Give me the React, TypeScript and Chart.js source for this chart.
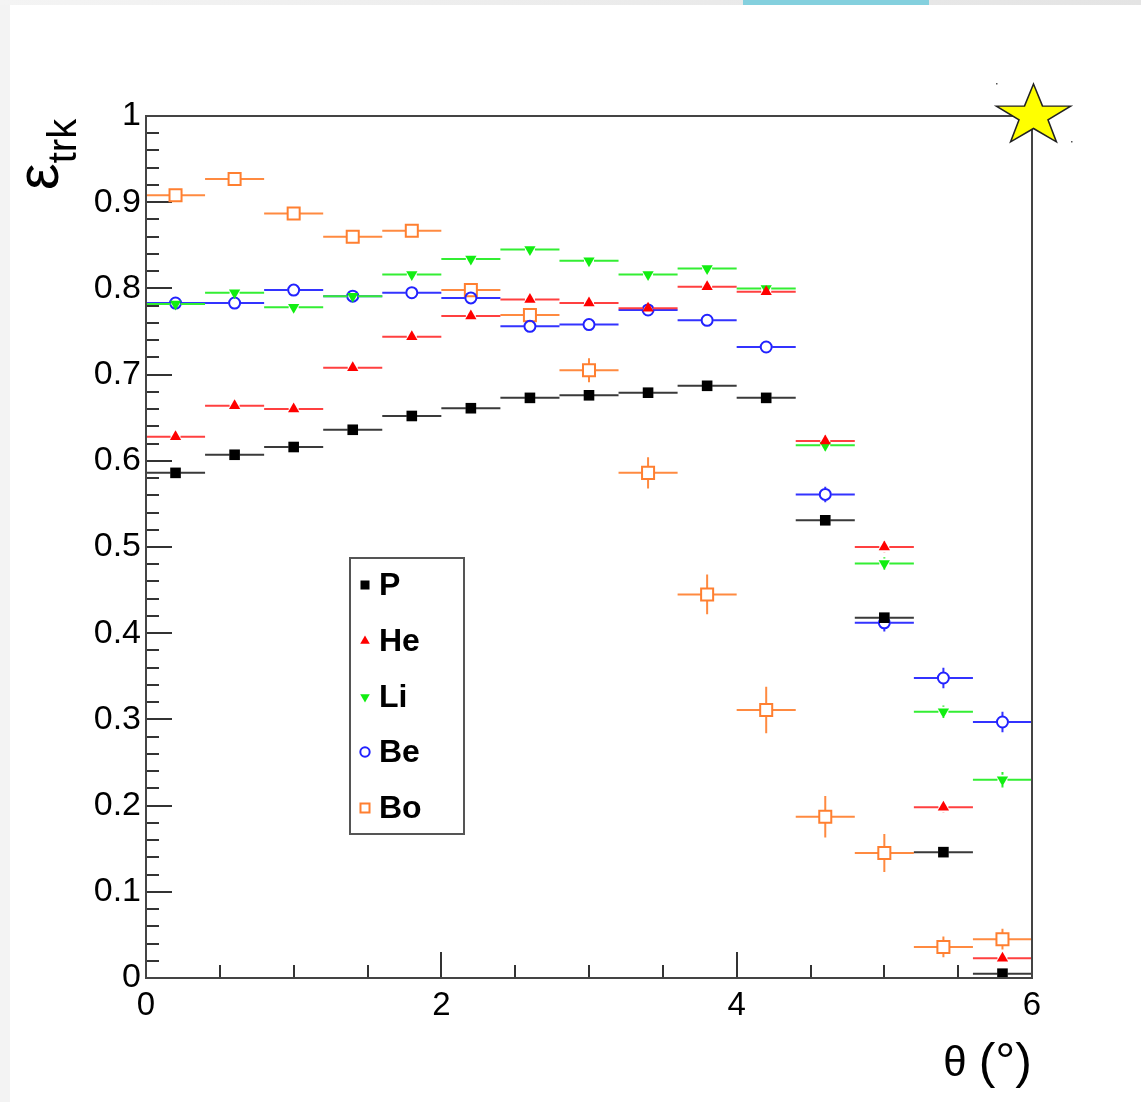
import React, { useEffect, useRef } from 'react';
import { Chart, registerables } from 'chart.js';
Chart.register(...registerables);

// ---- data ----
const thetaCenters = [0.2, 0.6, 1.0, 1.4, 1.8, 2.2, 2.6, 3.0, 3.4, 3.8, 4.2, 4.6, 5.0, 5.4, 5.8];
const binHalfWidth = 0.2;

const effP = [0.586, 0.607, 0.616, 0.636, 0.652, 0.661, 0.673, 0.676, 0.679, 0.687, 0.673, 0.531, 0.418, 0.146, 0.005];
const errP = [0.003, 0.003, 0.003, 0.003, 0.003, 0.003, 0.003, 0.003, 0.003, 0.003, 0.003, 0.004, 0.004, 0.004, 0.002];

const effHe = [0.628, 0.664, 0.660, 0.708, 0.744, 0.768, 0.787, 0.783, 0.777, 0.802, 0.796, 0.623, 0.500, 0.198, 0.023];
const errHe = [0.004, 0.004, 0.004, 0.004, 0.004, 0.004, 0.004, 0.004, 0.004, 0.004, 0.004, 0.006, 0.006, 0.006, 0.005];

const effLi = [0.782, 0.795, 0.778, 0.791, 0.816, 0.834, 0.845, 0.832, 0.816, 0.823, 0.800, 0.618, 0.481, 0.309, 0.230];
const errLi = [0.004, 0.004, 0.004, 0.004, 0.004, 0.004, 0.004, 0.004, 0.004, 0.004, 0.005, 0.006, 0.007, 0.007, 0.009];

const effBe = [0.783, 0.783, 0.798, 0.791, 0.795, 0.789, 0.756, 0.758, 0.775, 0.763, 0.732, 0.561, 0.412, 0.348, 0.297];
const errBe = [0.004, 0.004, 0.004, 0.004, 0.004, 0.004, 0.005, 0.005, 0.006, 0.006, 0.006, 0.009, 0.010, 0.012, 0.012];

const effBo = [0.908, 0.927, 0.887, 0.860, 0.867, 0.798, 0.769, 0.705, 0.586, 0.445, 0.311, 0.187, 0.145, 0.036, 0.045];
const errBo = [0.004, 0.004, 0.004, 0.004, 0.004, 0.006, 0.008, 0.014, 0.018, 0.023, 0.027, 0.024, 0.022, 0.012, 0.012];

const seriesNames = ['P', 'He', 'Li', 'Be', 'Bo'];
const yTickLabels = ['0', '0.1', '0.2', '0.3', '0.4', '0.5', '0.6', '0.7', '0.8', '0.9', '1'];
const xTickLabels = ['0', '2', '4', '6'];

// ---- styles ----
type Sty = { shape: string; size: number; fill: string; stroke: string; bar: string; gap: number };
const styles: Sty[] = [
  { shape: 'square', size: 7.5, fill: '#000000', stroke: '#000000', bar: '#3a3a3a', gap: 5 },
  { shape: 'tri', size: 6.5, fill: '#ff0000', stroke: '#ff0000', bar: '#ff4040', gap: 5 },
  { shape: 'triDown', size: 6.5, fill: '#11ee11', stroke: '#11ee11', bar: '#33ee33', gap: 5 },
  { shape: 'circle', size: 5.5, fill: 'rgba(0,0,0,0)', stroke: '#2222ff', bar: '#3333ff', gap: 6 },
  { shape: 'openSquare', size: 8.5, fill: 'rgba(0,0,0,0)', stroke: '#ff7f30', bar: '#ff8a40', gap: 6 },
];

const values = [effP, effHe, effLi, effBe, effBo];
const errors = [errP, errHe, errLi, errBe, errBo];

const FONT = '"Liberation Sans", Arial, sans-serif';

function pointStyleFor(shape: string) {
  if (shape === 'square' || shape === 'openSquare') return 'rect';
  if (shape === 'tri' || shape === 'triDown') return 'triangle';
  return 'circle';
}

function drawMarker(ctx: CanvasRenderingContext2D, sty: Sty, x: number, y: number, scale: number) {
  const r = sty.size * scale;
  ctx.save();
  ctx.beginPath();
  if (sty.shape === 'square' || sty.shape === 'openSquare') {
    const h = r * Math.SQRT1_2;
    ctx.rect(x - h, y - h, 2 * h, 2 * h);
  } else if (sty.shape === 'tri' || sty.shape === 'triDown') {
    const s = sty.shape === 'tri' ? 1 : -1;
    let a = 0;
    for (let k = 0; k < 3; k++) {
      const px = x + Math.sin(a) * r;
      const py = y - s * Math.cos(a) * r;
      if (k === 0) ctx.moveTo(px, py); else ctx.lineTo(px, py);
      a += (2 * Math.PI) / 3;
    }
    ctx.closePath();
  } else {
    ctx.arc(x, y, r, 0, Math.PI * 2);
  }
  if (sty.shape === 'circle' || sty.shape === 'openSquare') {
    ctx.lineWidth = 2;
    ctx.strokeStyle = sty.stroke;
    ctx.stroke();
  } else {
    ctx.fillStyle = sty.fill;
    ctx.fill();
  }
  ctx.restore();
}

const backgroundPlugin = {
  id: 'bgPanel',
  beforeDraw(chart: any) {
    const ctx = chart.ctx as CanvasRenderingContext2D;
    ctx.save();
    ctx.fillStyle = '#f3f3f3';
    ctx.fillRect(0, 0, chart.width, chart.height);
    const g = ctx.createLinearGradient(0, 0, chart.width, 0);
    g.addColorStop(0, '#f4f4f4');
    g.addColorStop(1, '#e4e4e4');
    ctx.fillStyle = g;
    ctx.fillRect(0, 0, chart.width, 5);
    ctx.fillStyle = '#84d0de';
    ctx.fillRect(743, 0, 186, 5);
    ctx.fillStyle = '#ffffff';
    ctx.fillRect(10, 5, chart.width - 10, chart.height - 5);
    ctx.restore();
  },
};

const ticksPlugin = {
  id: 'rootTicks',
  beforeDatasetsDraw(chart: any) {
    const ctx = chart.ctx as CanvasRenderingContext2D;
    const { left, bottom } = chart.chartArea;
    const xs = chart.scales.x;
    const ys = chart.scales.y;
    ctx.save();
    ctx.strokeStyle = '#333333';
    ctx.lineWidth = 2;
    ctx.beginPath();
    for (let i = 0; i <= 50; i++) {
      const py = Math.round(ys.getPixelForValue(i * 0.02));
      const len = i % 5 === 0 ? 26 : 13;
      ctx.moveTo(left, py);
      ctx.lineTo(left + len, py);
    }
    for (let i = 0; i <= 12; i++) {
      const px = Math.round(xs.getPixelForValue(i * 0.5));
      const len = i % 4 === 0 ? 26 : 13;
      ctx.moveTo(px, bottom);
      ctx.lineTo(px, bottom - len);
    }
    ctx.stroke();
    ctx.restore();
  },
};

const errorBarsPlugin = {
  id: 'errorBars',
  beforeDatasetDraw(chart: any, args: any) {
    const idx = args.index;
    const sty = styles[idx];
    const vals = values[idx];
    const errs = errors[idx];
    const ctx = chart.ctx as CanvasRenderingContext2D;
    const xs = chart.scales.x;
    const ys = chart.scales.y;
    const ca = chart.chartArea;
    ctx.save();
    ctx.beginPath();
    ctx.rect(ca.left, ca.top, ca.right - ca.left, ca.bottom - ca.top);
    ctx.clip();
    ctx.strokeStyle = sty.bar;
    ctx.lineWidth = 2;
    ctx.beginPath();
    for (let i = 0; i < thetaCenters.length; i++) {
      const c = thetaCenters[i];
      const px = xs.getPixelForValue(c);
      const pl = xs.getPixelForValue(c - binHalfWidth);
      const pr = xs.getPixelForValue(c + binHalfWidth);
      const py = ys.getPixelForValue(vals[i]);
      const pt = ys.getPixelForValue(vals[i] + errs[i]);
      const pb = ys.getPixelForValue(vals[i] - errs[i]);
      const g = sty.gap;
      ctx.moveTo(pl, py); ctx.lineTo(px - g, py);
      ctx.moveTo(px + g, py); ctx.lineTo(pr, py);
      if (py - pt > g) { ctx.moveTo(px, pt); ctx.lineTo(px, py - g); }
      if (pb - py > g) { ctx.moveTo(px, py + g); ctx.lineTo(px, pb); }
    }
    ctx.stroke();
    ctx.restore();
  },
};

const overlayPlugin = {
  id: 'overlay',
  afterDraw(chart: any) {
    const ctx = chart.ctx as CanvasRenderingContext2D;
    const ca = chart.chartArea;
    ctx.save();
    // frame
    ctx.strokeStyle = '#444444';
    ctx.lineWidth = 2;
    ctx.strokeRect(ca.left, ca.top, ca.right - ca.left, ca.bottom - ca.top);

    // legend
    const lx = 350, ly = 558, lw = 114, lh = 276;
    ctx.fillStyle = '#ffffff';
    ctx.fillRect(lx, ly, lw, lh);
    ctx.strokeStyle = '#555555';
    ctx.lineWidth = 2;
    ctx.strokeRect(lx, ly, lw, lh);
    const rowY = [585, 641, 697, 752, 808];
    ctx.font = `bold 32px ${FONT}`;
    ctx.textBaseline = 'middle';
    ctx.textAlign = 'left';
    for (let i = 0; i < seriesNames.length; i++) {
      drawMarker(ctx, styles[i], 365, rowY[i], i === 4 ? 0.75 : 0.85);
      ctx.fillStyle = '#000000';
      ctx.fillText(seriesNames[i], 379, rowY[i] + 1);
    }

    // y title: epsilon_trk rotated
    ctx.save();
    ctx.translate(58, 190);
    ctx.rotate(-Math.PI / 2);
    ctx.fillStyle = '#000000';
    ctx.textBaseline = 'alphabetic';
    ctx.textAlign = 'left';
    ctx.font = `60px ${FONT}`;
    ctx.fillText('ε', 0, 0);
    const w = ctx.measureText('ε').width;
    ctx.font = `40px ${FONT}`;
    ctx.fillText('trk', w, 18);
    ctx.restore();

    // x title
    ctx.fillStyle = '#000000';
    ctx.textBaseline = 'alphabetic';
    ctx.textAlign = 'right';
    ctx.font = `50px ${FONT}`;
    const tail = '(°)';
    ctx.fillText(tail, 1032, 1078);
    const tw = ctx.measureText(tail).width;
    ctx.font = `42px ${FONT}`;
    ctx.fillText('θ', 1032 - tw - 12, 1076);

    // star at corner
    const cx = ca.right + 1.5, cy = ca.top;
    const rx = 39, ry = 32;
    ctx.beginPath();
    for (let k = 0; k < 10; k++) {
      const a = (k * Math.PI) / 5;
      const f = k % 2 === 0 ? 1 : 0.39;
      const px = cx + rx * f * Math.sin(a);
      const py = cy - ry * f * Math.cos(a);
      if (k === 0) ctx.moveTo(px, py); else ctx.lineTo(px, py);
    }
    ctx.closePath();
    ctx.fillStyle = '#ffff00';
    ctx.fill();
    ctx.strokeStyle = '#222222';
    ctx.lineWidth = 1.5;
    ctx.stroke();
    ctx.fillStyle = '#555555';
    ctx.fillRect(996, 83, 1.5, 1.5);
    ctx.fillRect(1071, 141, 1.5, 1.5);
    ctx.restore();
  },
};

export default function App() {
  const ref = useRef<HTMLCanvasElement>(null);
  useEffect(() => {
    document.body.style.margin = '0';
    document.body.style.overflow = 'hidden';
    const datasets = seriesNames.map((name, i) => {
      const sty = styles[i];
      return {
        label: name,
        data: thetaCenters.map((x, j) => ({ x, y: values[i][j] })),
        showLine: false,
        pointStyle: pointStyleFor(sty.shape),
        pointRotation: sty.shape === 'triDown' ? 180 : 0,
        pointRadius: sty.size,
        pointHoverRadius: sty.size,
        pointBackgroundColor: sty.fill,
        pointBorderColor: sty.stroke,
        pointBorderWidth: sty.shape === 'circle' || sty.shape === 'openSquare' ? 2 : 0,
      };
    });
    const chart = new Chart(ref.current!, {
      type: 'scatter',
      data: { datasets },
      options: {
        responsive: false,
        animation: false,
        devicePixelRatio: 1,
        events: [],
        layout: { padding: { left: 0, top: 116, right: 109, bottom: 64 } },
        plugins: { legend: { display: false }, tooltip: { enabled: false }, title: { display: false } },
        scales: {
          x: {
            type: 'linear',
            min: 0,
            max: 6,
            grid: { display: false, drawTicks: false },
            border: { display: false },
            afterFit: (s: any) => { s.height = 60; },
            ticks: {
              stepSize: 2,
              padding: 8,
              color: '#000000',
              font: { family: FONT, size: 33 },
              callback: (v: any) => xTickLabels[Math.round(Number(v) / 2)],
            },
          },
          y: {
            type: 'linear',
            min: 0,
            max: 1,
            grid: { display: false, drawTicks: false },
            border: { display: false },
            afterFit: (s: any) => { s.width = 146; },
            ticks: {
              stepSize: 0.1,
              padding: 5,
              color: '#000000',
              font: { family: FONT, size: 34 },
              callback: (v: any) => yTickLabels[Math.round(Number(v) * 10)],
            },
          },
        },
      },
      plugins: [backgroundPlugin, ticksPlugin, errorBarsPlugin, overlayPlugin],
    } as any);
    return () => chart.destroy();
  }, []);
  return (
    <div style={{ position: 'absolute', left: 0, top: 0, width: 1141, height: 1102 }}>
      <canvas ref={ref} width={1141} height={1102} style={{ display: 'block', width: 1141, height: 1102 }} />
    </div>
  );
}
